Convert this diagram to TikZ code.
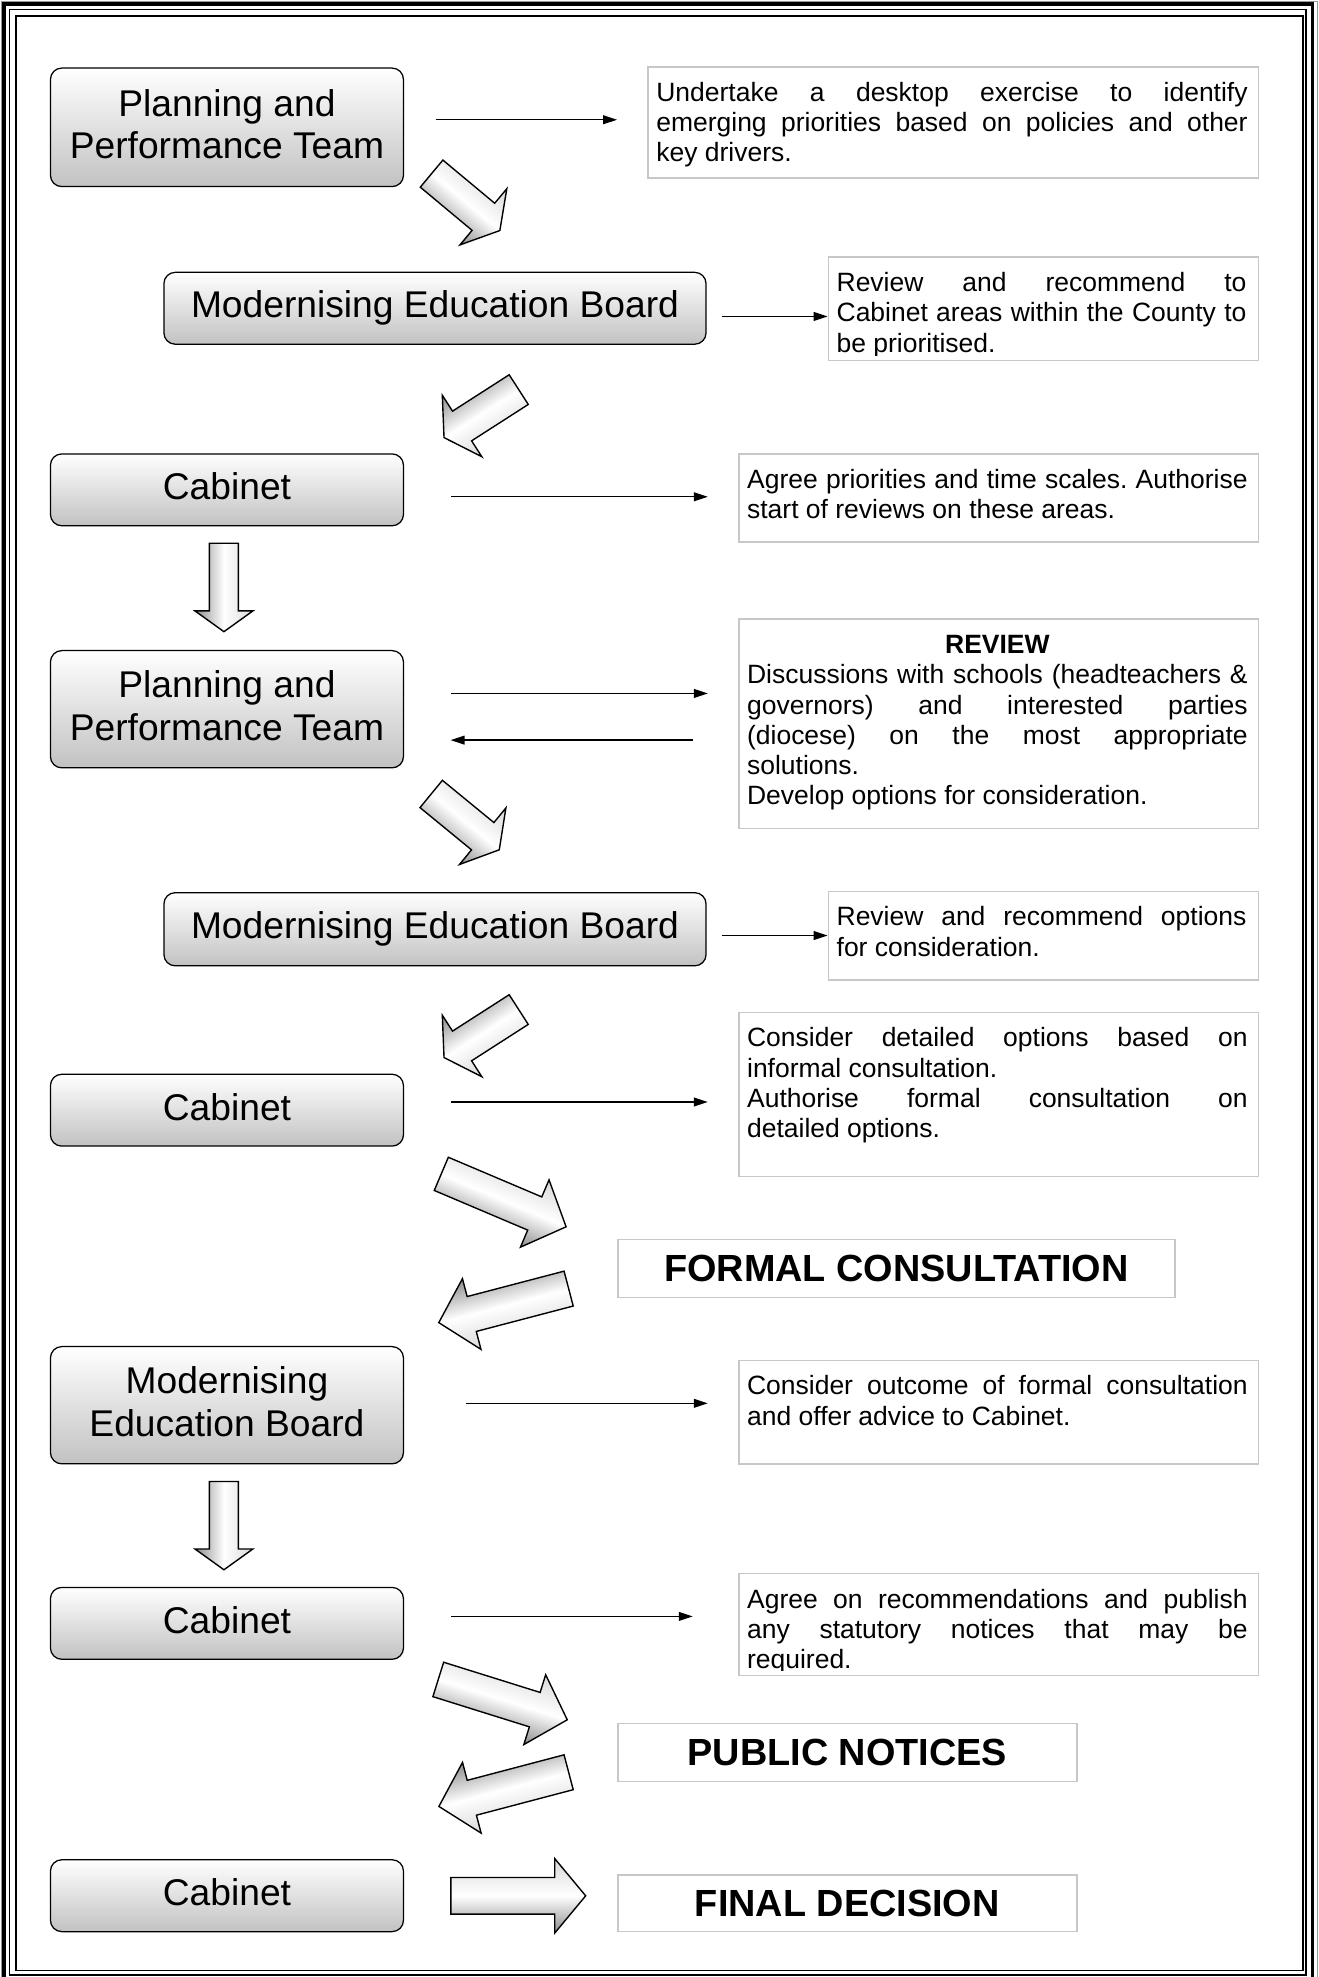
\documentclass[tikz,border=0pt]{standalone}
\usepackage{fontspec}
\setmainfont{Liberation Sans}
\usetikzlibrary{calc,arrows.meta}
\newcommand\blockarr[7]{%
  \pgfmathsetmacro\baDx{#3-#1}%
  \pgfmathsetmacro\baDy{#4-#2}%
  \pgfmathsetmacro\baL{veclen(\baDx,\baDy)}%
  \pgfmathsetmacro\baA{atan2(-\baDy,\baDx)}%
  \pgfmathsetmacro\baS{\baL-#7}%
  \begin{scope}[transform canvas={shift={(#1,#2)},rotate=\baA}]
    \shade[blk] (0pt,#5pt) -- (\baS pt,#5pt) -- (\baS pt,#6pt) -- (\baL pt,0pt) -- (\baS pt,-#6pt) -- (\baS pt,-#5pt) -- (0pt,-#5pt) -- cycle;
  \end{scope}}
\newcommand\tbtext[3]{%
  \begin{scope}
    \clip ($(#1.north west)+(1,1)$) rectangle ($(#1.south east)+(-1,-5)$);
    \node[anchor=base west, inner sep=0pt, font=\fontsize{21}{24}\selectfont] (#1txt) at ($(#1.north west)+(7,28)$)
      {\parbox[t]{#2pt}{\hyphenpenalty=10000\frenchspacing #3}};
  \end{scope}}
\newcommand\boxlabel[3]{%
  \node[inner sep=0pt, align=center, font=\fontsize{29.5}{34}\selectfont] (#1txt) at ($(#1.center)+(0,#2)$) {#3};}
\tikzset{
  mainbox/.style={draw=black, line width=1pt, rounded corners=9pt, top color=white, bottom color=black!24,
    minimum width=280pt, inner sep=0pt},
  wide/.style={minimum width=430pt},
  tbox/.style={draw=black!22, line width=1.3pt, fill=white, inner sep=0pt},
  bigtitle/.style={font=\fontsize{30}{34}\selectfont\bfseries},
  conn/.style={line width=1pt, -{Triangle[length=11pt,width=7pt]}},
  blk/.style={draw=black, line width=1.1pt, line join=miter, top color=black!15, bottom color=black!45, middle color=white}
}
\begin{document}
\begin{tikzpicture}[x=1pt,y=-1pt]
\useasboundingbox (0,0) rectangle (1046,1568);
\fill[white] (0,0) rectangle (1046,1568);
% page border
\draw[line width=0.8pt, black!40] (0.8,0.8) rectangle (1045.2,1580);
\draw[line width=3pt] (3.4,3.4) rectangle (1041,1575);
\draw[line width=1.5pt] (7.5,7.5) rectangle (1036,1566.5);
\draw[line width=1pt] (12.7,12.7) rectangle (1033.5,1563);

% main boxes
\node[mainbox, minimum height=94pt] (ppt1) at (180,101) {};
\node[mainbox, wide, minimum height=57pt] (meb1) at (345,244.5) {};
\node[mainbox, minimum height=57pt] (cab1) at (180,388.5) {};
\node[mainbox, minimum height=93pt] (ppt2) at (180,562.5) {};
\node[mainbox, wide, minimum height=58pt] (meb2) at (345,737) {};
\node[mainbox, minimum height=57pt] (cab2) at (180,880.5) {};
\node[mainbox, minimum height=93pt] (meb3) at (180,1114.5) {};
\node[mainbox, minimum height=57pt] (cab3) at (180,1287.5) {};
\node[mainbox, minimum height=57pt] (cab4) at (180,1503.5) {};
\boxlabel{ppt1}{-2.5}{Planning and\\Performance Team}
\boxlabel{meb1}{0}{Modernising Education Board}
\boxlabel{cab1}{-2.5}{Cabinet}
\boxlabel{ppt2}{-2.5}{Planning and\\Performance Team}
\boxlabel{meb2}{0}{Modernising Education Board}
\boxlabel{cab2}{-2.5}{Cabinet}
\boxlabel{meb3}{-2.5}{Modernising\\Education Board}
\boxlabel{cab3}{-2.5}{Cabinet}
\boxlabel{cab4}{-2.5}{Cabinet}

% text boxes
\node[tbox, minimum width=484pt, minimum height=88pt] (t1) at (756,97) {};
\node[tbox, minimum width=341pt, minimum height=82pt] (t2) at (827.5,245) {};
\node[tbox, minimum width=412pt, minimum height=70pt] (t3) at (792,395) {};
\node[tbox, minimum width=412pt, minimum height=166pt] (t4) at (792,574) {};
\node[tbox, minimum width=341pt, minimum height=70pt] (t5) at (827.5,742) {};
\node[tbox, minimum width=412pt, minimum height=130pt] (t6) at (792,868) {};
\node[tbox, bigtitle, minimum width=442pt, minimum height=46pt] (fc) at (711,1006) {FORMAL CONSULTATION};
\node[tbox, minimum width=412pt, minimum height=82pt] (t7) at (792,1120) {};
\node[tbox, minimum width=412pt, minimum height=81pt] (t8) at (792,1288.5) {};
\node[tbox, bigtitle, minimum width=364pt, minimum height=46pt] (pn) at (672,1390) {PUBLIC NOTICES};
\node[tbox, bigtitle, minimum width=364pt, minimum height=45pt] (fd) at (672,1509.5) {FINAL DECISION};

\tbtext{t1}{469}{Undertake a desktop exercise to identify\linebreak emerging priorities based on policies and other\linebreak key drivers.}
\tbtext{t2}{325}{Review and recommend to\linebreak Cabinet areas within the County to\linebreak be prioritised.}
\tbtext{t3}{397}{Agree priorities and time scales. Authorise\linebreak start of reviews on these areas.}
\tbtext{t4}{397}{{\centering\textbf{REVIEW}\par}Discussions with schools (headteachers \&\linebreak governors) and interested parties\linebreak (diocese) on the most appropriate\linebreak solutions.\par Develop options for consideration.}
\tbtext{t5}{325}{Review and recommend options\linebreak for consideration.}
\tbtext{t6}{397}{Consider detailed options based on\linebreak informal consultation.\par Authorise formal consultation on\linebreak detailed options.}
\tbtext{t7}{397}{Consider outcome of formal consultation\linebreak and offer advice to Cabinet.}
\tbtext{t8}{397}{Agree on recommendations and publish\linebreak any statutory notices that may be\linebreak required.}

% connectors
\draw[conn] ($(ppt1.east)+(25,-6)$) -- ($(t1.west)+(-24,-2)$);
\draw[conn] ($(meb1.east)+(12,6.5)$) -- ($(t2.west)+(0,6)$);
\draw[conn] ($(cab1.east)+(37,5.5)$) -- ($(t3.west)+(-24,-1)$);
\draw[conn] ($(ppt2.east)+(37,-12.5)$) -- ($(t4.west)+(-24,-24)$);
\draw[conn] ($(t4.west)+(-36,13)$) -- ($(ppt2.east)+(37,24.5)$);
\draw[conn] ($(meb2.east)+(12,5)$) -- (t5.west);
\draw[conn] ($(cab2.east)+(37,-6.5)$) -- ($(t6.west)+(-24,6)$);
\draw[conn] ($(meb3.east)+(49,-1.5)$) -- ($(t7.west)+(-24,-7)$);
\draw[conn] ($(cab3.east)+(37,-5.5)$) -- ($(t8.west)+(-36,-6.5)$);

% block arrows
\blockarr{342.3}{137.7}{396.5}{182.9}{14}{29}{17}
\blockarr{411.4}{309}{352.1}{347.1}{14}{29}{17}
\blockarr{177.6}{430.9}{177.6}{501}{11.5}{23}{16.5}
\blockarr{342}{629.7}{396}{674}{14}{29}{17}
\blockarr{411.4}{800.7}{352.1}{838.8}{14}{29}{17}
\blockarr{350}{931}{449}{973}{14.3}{29}{27}
\blockarr{451}{1022}{348}{1049}{14.3}{29}{27}
\blockarr{177.6}{1175}{177.6}{1245}{11.5}{23}{16.5}
\blockarr{347.6}{1332}{449.9}{1364}{14.3}{29}{27}
\blockarr{451}{1405.6}{348.1}{1432.7}{14.3}{29}{27}
\blockarr{357.6}{1503.6}{464.5}{1503.6}{14.5}{29.5}{24.5}
\end{tikzpicture}
\end{document}
